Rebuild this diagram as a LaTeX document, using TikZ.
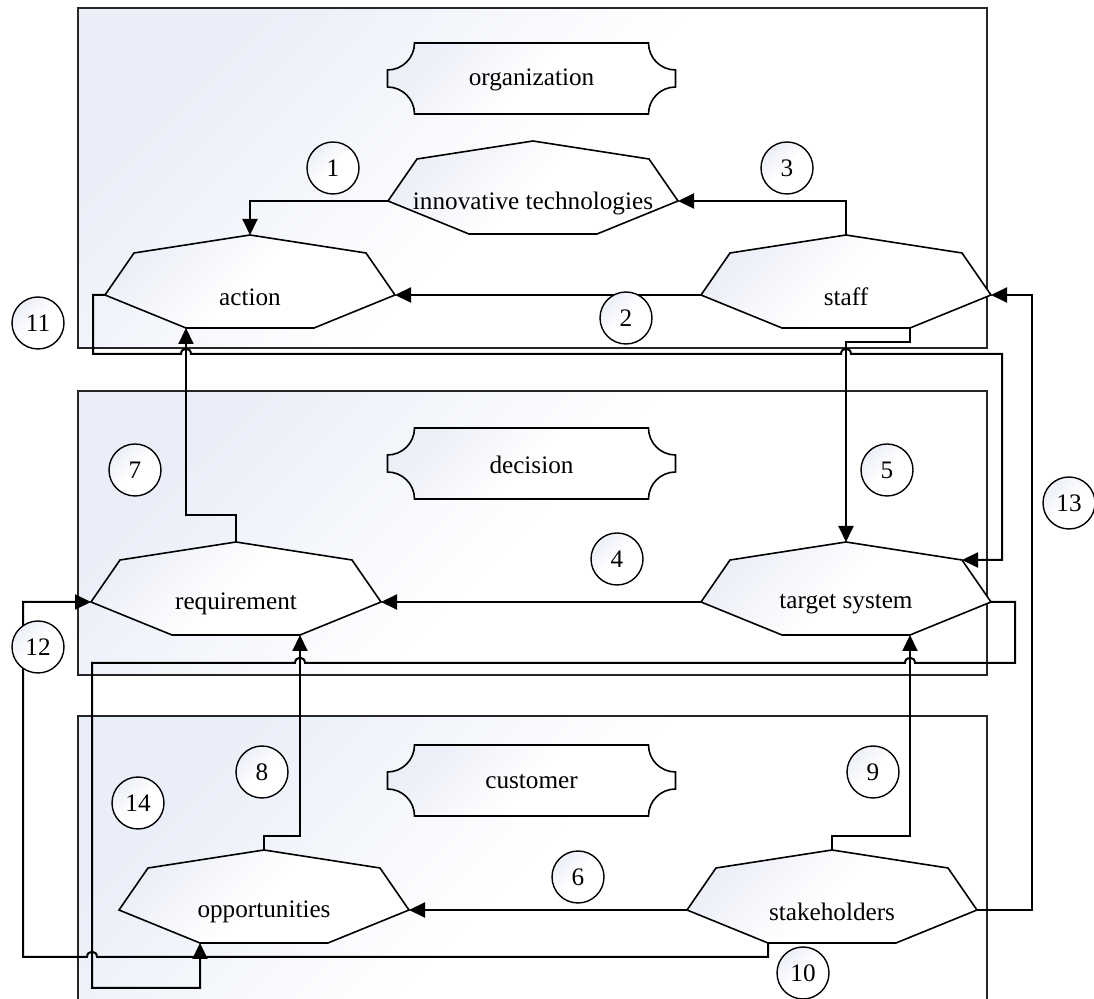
\documentclass[tikz,border=0pt]{standalone}
\usepackage{fontspec}
\setmainfont{Liberation Serif}
\usetikzlibrary{arrows.meta}
\definecolor{gradc}{RGB}{233,238,248}
\definecolor{gradd}{RGB}{236,239,248}
\tikzset{
 conn/.style={line width=1pt, -{Triangle[length=8pt,width=7.5pt]}},
 shp/.style={draw=black, line width=0.8pt, top color=gradd, bottom color=white, middle color=white, shading angle=45},
 cont/.style={draw=black!85, line width=0.7pt, top color=gradc, bottom color=white, middle color=white, shading angle=45},
 lbl/.style={font=\fontsize{12.6}{14}\selectfont, inner sep=0pt},
 num/.style={circle, draw, line width=0.7pt, minimum size=26pt, inner sep=0pt, top color=gradd, bottom color=white, middle color=white, shading angle=45, font=\fontsize{12.6}{14}\selectfont},
 hopr/.style args={#1/#2}{insert path={-- ({#1-5},#2) .. controls ({#1-5},{#2-7}) and ({#1+5},{#2-7}) .. ({#1+5},#2)}},
 hopl/.style args={#1/#2}{insert path={-- ({#1+5},#2) .. controls ({#1+5},{#2-7}) and ({#1-5},{#2-7}) .. ({#1-5},#2)}},
}
\newcommand\octshape[4]{%
 \draw[shp] ({#2},{#3}) -- ({#2+116},{#3+18}) -- ({#2+145},{#3+60}) -- ({#2+64},{#3+93}) -- ({#2-64},{#3+93}) -- ({#2-145},{#3+60}) -- ({#2-116},{#3+18}) -- cycle;
 \coordinate (#1-T) at ({#2},{#3});
 \coordinate (#1-SR) at ({#2+116},{#3+18});
 \coordinate (#1-R) at ({#2+145},{#3+60});
 \coordinate (#1-BR) at ({#2+64},{#3+93});
 \coordinate (#1-BL) at ({#2-64},{#3+93});
 \coordinate (#1-L) at ({#2-145},{#3+60});
 \node[lbl] (#1) at ({#2},{#3+62}) {#4};
}
\newcommand\brackshape[4]{%
 \draw[shp] ({#2-117},{#3}) -- ({#2+117},{#3})
   .. controls ({#2+117},{#3+14.9}) and ({#2+129.1},{#3+27}) .. ({#2+144},{#3+27})
   -- ({#2+144},{#3+44})
   .. controls ({#2+129.1},{#3+44}) and ({#2+117},{#3+56.1}) .. ({#2+117},{#3+71})
   -- ({#2-117},{#3+71})
   .. controls ({#2-117},{#3+56.1}) and ({#2-129.1},{#3+44}) .. ({#2-144},{#3+44})
   -- ({#2-144},{#3+27})
   .. controls ({#2-129.1},{#3+27}) and ({#2-117},{#3+14.9}) .. ({#2-117},{#3})
   -- cycle;
 \node[lbl] (#1) at ({#2},{#3+37}) {#4};
}
\begin{document}
\begin{tikzpicture}[x=0.5pt,y=-0.5pt]
\useasboundingbox (0,0) rectangle (1094,999);
\clip (0,0) rectangle (1094,999);
% containers
\path[cont] (78,8) rectangle (987,348);
\path[cont] (78,391) rectangle (987,675);
\path[cont] (78,716) rectangle (987,1012);
% bracket titles
\brackshape{org}{531.5}{43}{organization}
\brackshape{dec}{531.5}{428}{decision}
\brackshape{cus}{531.5}{745}{customer}
% octagons
\octshape{action}{250}{235}{action}
\octshape{inno}{533}{141}{innovative technologies}
\octshape{staff}{846}{235}{staff}
\octshape{req}{236}{542}{requirement}
\octshape{target}{846}{542}{target system}
\octshape{opp}{264}{850}{opportunities}
\octshape{stake}{832}{850}{stakeholders}
% connectors
\draw[conn] (inno-L) -| (action-T);
\draw[conn] (staff-L) -- (action-R);
\draw[conn] (staff-T) |- (inno-R);
\draw[conn] (target-L) -- (req-R);
\draw[conn] (staff-BR) -- ++(0,14) -| (target-T);
\draw[conn] (stake-L) -- (opp-R);
\draw[conn] (req-T) -- ++(0,-27) -| (action-BL);
\draw[conn] (opp-T) -- ++(0,-14) -| (req-BR);
\draw[conn] (stake-T) -- ++(0,-14) -| (target-BR);
\draw[conn] (action-L) -- ++(-12,0) -- (93,354) [hopr=186/354] [hopr=846/354] -- (1002,354) |- (target-SR);
\draw[conn] (target-R) -- ++(24,0) -- (1015,663) [hopl=910/663] [hopl=300/663] -- (92,663) -- (92,988) -| (opp-BL);
\draw[conn] (stake-BL) -- ++(0,14) [hopl=92/957] -- (23,957) |- (req-L);
\draw[conn] (stake-R) -- ++(55,0) |- (staff-R);
% number labels
\node[num] (n1) at (333,168) {1};
\node[num] (n2) at (626,318) {2};
\node[num] (n3) at (787,168) {3};
\node[num] (n4) at (617,559) {4};
\node[num] (n5) at (887,470) {5};
\node[num] (n6) at (578,877) {6};
\node[num] (n7) at (135,470) {7};
\node[num] (n8) at (262,772) {8};
\node[num] (n9) at (873,772) {9};
\node[num] (n10) at (803,973) {10};
\node[num] (n11) at (38,323) {11};
\node[num] (n12) at (38,647) {12};
\node[num] (n13) at (1069,503) {13};
\node[num] (n14) at (138,803) {14};
\end{tikzpicture}
\end{document}
